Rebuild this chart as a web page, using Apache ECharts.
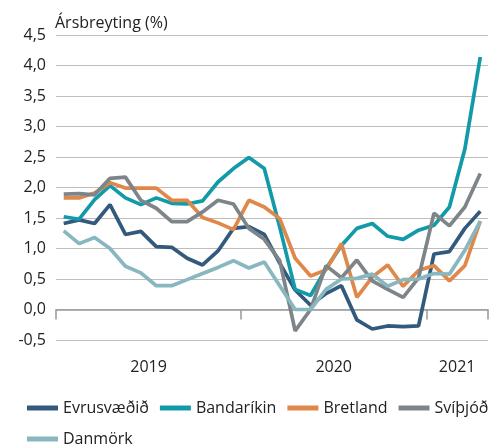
<!DOCTYPE html>
<html>
<head>
<meta charset="utf-8">
<title>Ársbreyting</title>
<script src="https://cdn.jsdelivr.net/npm/echarts@6/dist/echarts.min.js"></script>
<style>
  html, body { margin: 0; padding: 0; background: #fff; }
  #chart { width: 501px; height: 445px; }
</style>
</head>
<body>
<div id="chart"></div>
<script>
  // mánuðir jan 2019 - apr 2021
  var months = [
    '2019-01','2019-02','2019-03','2019-04','2019-05','2019-06','2019-07','2019-08','2019-09','2019-10','2019-11','2019-12',
    '2020-01','2020-02','2020-03','2020-04','2020-05','2020-06','2020-07','2020-08','2020-09','2020-10','2020-11','2020-12',
    '2021-01','2021-02','2021-03','2021-04'
  ];
  var yearLabels = ['2019', '2020', '2021'];
  var yearCenters = [6, 18, 26];   // miðja hvers árs í mánuðum

  var evrusvaedid = [1.41, 1.47, 1.41, 1.72, 1.23, 1.28, 1.03, 1.02, 0.84, 0.73, 0.96, 1.33,
                     1.36, 1.23, 0.76, 0.32, 0.07, 0.26, 0.39, -0.17, -0.32, -0.27, -0.28, -0.27,
                     0.91, 0.95, 1.33, 1.61];
  var bandarikin  = [1.52, 1.48, 1.80, 2.03, 1.83, 1.72, 1.83, 1.74, 1.73, 1.78, 2.09, 2.31,
                     2.49, 2.31, 1.35, 0.33, 0.23, 0.67, 1.05, 1.33, 1.41, 1.20, 1.15, 1.30,
                     1.38, 1.68, 2.63, 4.14];
  var bretland    = [1.83, 1.83, 1.91, 2.08, 1.99, 1.99, 1.99, 1.79, 1.79, 1.51, 1.42, 1.31,
                     1.79, 1.68, 1.49, 0.84, 0.55, 0.65, 1.08, 0.20, 0.53, 0.73, 0.38, 0.64,
                     0.72, 0.47, 0.72, 1.45];
  var svithjod    = [1.89, 1.90, 1.88, 2.15, 2.17, 1.79, 1.66, 1.44, 1.44, 1.60, 1.79, 1.73,
                     1.33, 1.15, 0.80, -0.35, 0.00, 0.72, 0.52, 0.81, 0.47, 0.33, 0.20, 0.52,
                     1.58, 1.37, 1.68, 2.23];
  var danmork     = [1.29, 1.08, 1.18, 1.00, 0.71, 0.60, 0.39, 0.39, 0.49, 0.59, 0.69, 0.80,
                     0.68, 0.78, 0.39, 0.00, 0.00, 0.33, 0.50, 0.51, 0.58, 0.38, 0.49, 0.50,
                     0.59, 0.58, 0.97, 1.45];

  var names  = ['Evrusvæðið', 'Bandaríkin', 'Bretland', 'Svíþjóð', 'Danmörk'];
  var colors = ['#335a7c', '#129aa8', '#e0874a', '#7e8588', '#88b7bf'];
  var values = [evrusvaedid, bandarikin, bretland, svithjod, danmork];

  var font = 'Open Sans';

  var series = names.map(function (n, k) {
    return {
      name: n,
      type: 'line',
      data: values[k],
      symbol: 'none',
      smooth: false,
      lineStyle: { width: 3.7, color: colors[k] },
      itemStyle: { color: colors[k] }
    };
  });

  var option = {
    animation: false,
    color: colors,
    textStyle: { fontFamily: font },
    title: {
      text: 'Ársbreyting (%)',
      left: 50, top: 10,
      textStyle: { fontFamily: font, fontSize: 16, fontWeight: 'normal', color: '#222' }
    },
    grid: { left: 56, right: 13, top: 35, bottom: 105 },
    legend: {
      data: names,
      left: 27, right: 4, top: 398,
      padding: 0,
      icon: 'rect',
      itemWidth: 31, itemHeight: 5,
      itemGap: 11,
      textStyle: { fontFamily: font, fontSize: 16, lineHeight: 20, color: '#222' }
    },
    xAxis: [
      {
        type: 'category',
        data: months,
        boundaryGap: true,
        axisLine: { lineStyle: { color: '#999', width: 1.5 } },
        axisTick: {
          show: true, length: 10,
          interval: function (i) { return i % 12 === 0; },
          lineStyle: { color: '#999', width: 1.5 }
        },
        axisLabel: { show: false },
        splitLine: { show: false }
      },
      {
        type: 'value',
        position: 'bottom',
        min: 0, max: months.length, interval: 2,
        axisLine: { show: false },
        axisTick: { show: false },
        splitLine: { show: false },
        axisLabel: {
          margin: 19,
          fontFamily: font, fontSize: 16, color: '#222',
          formatter: function (v) {
            var k = yearCenters.indexOf(v);
            return k >= 0 ? yearLabels[k] : '';
          }
        }
      }
    ],
    yAxis: {
      type: 'value',
      min: -0.5, max: 4.5, interval: 0.5,
      axisLine: { show: false },
      axisTick: { show: false },
      splitLine: { lineStyle: { color: '#bdbdbd', width: 1 } },
      axisLabel: {
        margin: 10,
        fontFamily: font, fontSize: 16, color: '#222',
        formatter: function (v) { return v.toFixed(1).replace('.', ','); }
      }
    },
    series: series
  };

  var myChart = echarts.init(document.getElementById('chart'));
  myChart.setOption(option);
</script>
</body>
</html>
